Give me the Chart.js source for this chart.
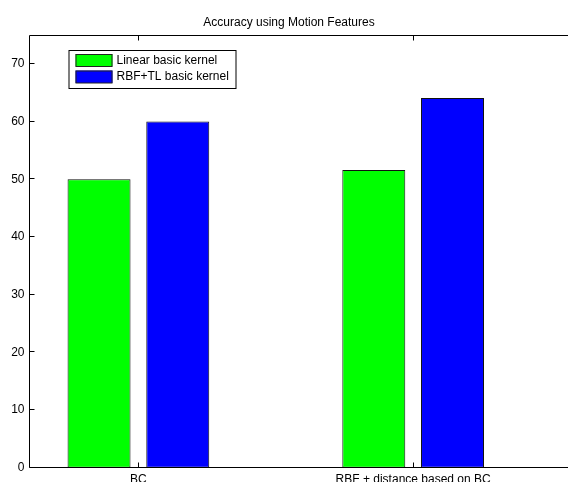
<!DOCTYPE html>
<html>
<head>
<meta charset="utf-8">
<script src="https://cdn.jsdelivr.net/npm/chart.js@4/dist/chart.umd.min.js"></script>
<style>
  html, body { margin: 0; padding: 0; background: #fff; overflow: hidden; width: 568px; height: 482px; }
  #wrap { position: absolute; left: 0; top: 0; width: 607px; height: 500px; }
</style>
</head>
<body>
<div id="wrap"><canvas id="c" width="607" height="500"></canvas></div>
<script>
// Groups along the x axis
const categories = ['BC', 'RBF + distance based on BC'];
// Accuracy (%) for each kernel
const linearBasic = [50, 51.6];
const rbfTlBasic = [60, 64.1];
const seriesNames = ['Linear basic kernel', 'RBF+TL basic kernel'];
const seriesColors = ['#00ff00', '#0000ff'];
const yTickValues = [0, 10, 20, 30, 40, 50, 60, 70];

const FONT = 'Liberation Sans, Arial, Helvetica, sans-serif';

// Box around the axes plus inward MATLAB-style tick marks
const axesFrame = {
  id: 'axesFrame',
  afterDatasetsDraw(chart) {
    const { ctx, chartArea: a, scales } = chart;
    ctx.save();
    ctx.strokeStyle = '#000';
    ctx.lineWidth = 1;
    ctx.beginPath();
    const L = Math.round(a.left) + 0.5, R = Math.round(a.right) + 0.5;
    const T = Math.round(a.top) + 0.5, B = Math.round(a.bottom) - 0.5;
    ctx.rect(L, T, R - L, B - T);
    scales.y.ticks.forEach(t => {
      const y = Math.round(scales.y.getPixelForValue(t.value)) - 0.5;
      ctx.moveTo(L, y); ctx.lineTo(L + 5, y);
      ctx.moveTo(R, y); ctx.lineTo(R - 5, y);
    });
    scales.x.ticks.forEach(t => {
      const x = Math.round(scales.x.getPixelForValue(t.value)) + 0.5;
      ctx.moveTo(x, B); ctx.lineTo(x, B - 5);
      ctx.moveTo(x, T); ctx.lineTo(x, T + 5);
    });
    ctx.stroke();
    ctx.restore();
  }
};

// Boxed legend in the upper-left corner of the axes
const boxLegend = {
  id: 'boxLegend',
  afterDraw(chart) {
    const { ctx, chartArea: a } = chart;
    const x0 = a.left + 40, y0 = a.top + 15;
    const w = 167, h = 38;
    ctx.save();
    ctx.fillStyle = '#fff';
    ctx.fillRect(x0, y0, w, h);
    ctx.strokeStyle = '#000';
    ctx.lineWidth = 1;
    ctx.strokeRect(x0 + 0.5, y0 + 0.5, w, h);
    ctx.font = '12px ' + FONT;
    ctx.textBaseline = 'middle';
    ctx.textAlign = 'left';
    chart.data.datasets.forEach((ds, i) => {
      const sy = y0 + 4 + i * 16.5;
      ctx.fillStyle = ds.backgroundColor;
      ctx.fillRect(x0 + 7, sy, 37, 12.5);
      ctx.strokeStyle = '#222';
      ctx.strokeRect(x0 + 7.5, sy + 0.5, 36, 12);
      ctx.fillStyle = '#000';
      ctx.fillText(ds.label, x0 + 48, sy + 6.5);
    });
    ctx.restore();
  }
};

const toPoints = vals => vals.map((v, i) => ({ x: i + 1, y: v }));

new Chart(document.getElementById('c'), {
  type: 'bar',
  data: {
    datasets: [
      { label: seriesNames[0], data: toPoints(linearBasic), backgroundColor: seriesColors[0],
        borderColor: '#111', borderWidth: 1, borderSkipped: false,
        categoryPercentage: 0.573, barPercentage: 0.8 },
      { label: seriesNames[1], data: toPoints(rbfTlBasic), backgroundColor: seriesColors[1],
        borderColor: '#111', borderWidth: 1, borderSkipped: false,
        categoryPercentage: 0.573, barPercentage: 0.8 }
    ]
  },
  options: {
    responsive: false,
    animation: false,
    devicePixelRatio: 1,
    layout: { padding: { left: 0, right: 29, top: 0, bottom: 0 } },
    plugins: {
      legend: { display: false },
      tooltip: { enabled: false },
      title: {
        display: true,
        text: 'Accuracy using Motion Features',
        color: '#000',
        font: { family: FONT, size: 12, weight: 'normal', lineHeight: 1.2 },
        padding: { top: 15, bottom: 5.6 }
      }
    },
    scales: {
      x: {
        type: 'linear',
        min: 0.6,
        max: 2.6,
        offset: false,
        grid: { display: false, drawTicks: false, offset: false },
        border: { display: false },
        afterBuildTicks(scale) {
          scale.ticks = categories.map((c, i) => ({ value: i + 1 }));
        },
        afterFit(scale) { scale.height = 32.3; },
        ticks: {
          padding: 5,
          color: '#000',
          maxRotation: 0,
          autoSkip: false,
          font: { family: FONT, size: 12 },
          callback: v => categories[Math.round(v) - 1] ?? ''
        }
      },
      y: {
        min: 0,
        max: 75,
        grid: { display: false, drawTicks: false },
        border: { display: false },
        afterBuildTicks(scale) {
          scale.ticks = yTickValues.map(v => ({ value: v }));
        },
        afterFit(scale) { scale.width = 28.5; },
        ticks: {
          padding: 4,
          color: '#000',
          font: { family: FONT, size: 12 }
        }
      }
    }
  },
  plugins: [axesFrame, boxLegend]
});
</script>
</body>
</html>
